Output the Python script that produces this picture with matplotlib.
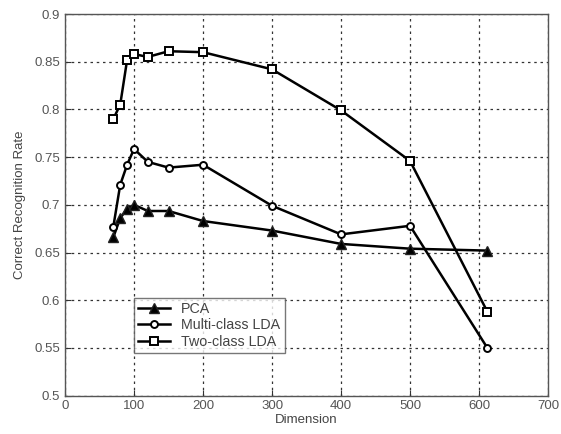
import matplotlib
matplotlib.use("Agg")
import matplotlib.pyplot as plt

plt.rcParams['font.family'] = ['Liberation Sans', 'DejaVu Sans']

dims = [70, 80, 90, 100, 120, 150, 200, 300, 400, 500, 612]
pca = [0.666, 0.686, 0.696, 0.700, 0.6935, 0.6935, 0.683, 0.673, 0.659, 0.654, 0.652]
multi_lda = [0.677, 0.721, 0.742, 0.7585, 0.745, 0.739, 0.742, 0.699, 0.669, 0.678, 0.55]
two_lda = [0.79, 0.805, 0.852, 0.858, 0.855, 0.861, 0.86, 0.842, 0.799, 0.746, 0.588]

xticks = [0, 100, 200, 300, 400, 500, 600, 700]
yticks = [0.5, 0.55, 0.6, 0.65, 0.7, 0.75, 0.8, 0.85, 0.9]
ytick_labels = ['0.5', '0.55', '0.6', '0.65', '0.7', '0.75', '0.8', '0.85', '0.9']

fig = plt.figure(figsize=(5.61, 4.34), dpi=100)
ax = fig.add_axes([0.1159, 0.0885, 0.861, 0.8792])

lw = 1.8
ax.plot(dims, pca, '-^', color='black', lw=lw, markersize=6.5, markerfacecolor='black',
        markeredgecolor='#222222', label='PCA', zorder=3)
ax.plot(dims, multi_lda, '-o', color='black', lw=lw, markersize=5, markerfacecolor='white',
        markeredgewidth=1.4, label='Multi-class LDA', zorder=3)
ax.plot(dims, two_lda, '-s', color='black', lw=lw, markersize=5.8, markerfacecolor='white',
        markeredgewidth=1.4, label='Two-class LDA', zorder=3)

ax.set_xlim(0, 700)
ax.set_ylim(0.5, 0.9)
ax.set_xticks(xticks)
ax.set_yticks(yticks)
ax.set_yticklabels(ytick_labels)
ax.grid(True, linestyle=(0, (2, 3)), color='#333333', linewidth=0.9)
ax.tick_params(direction='in', length=4, labelsize=9.5, colors='#333333', labelcolor='#555555')
for s in ax.spines.values():
    s.set_color('#555555')
    s.set_linewidth(1.0)

ax.set_xlabel('Dimension', fontsize=9.5, color='#444444', labelpad=1)
ax.set_ylabel('Correct Recognition Rate', fontsize=9.5, color='#444444', labelpad=6)

leg = ax.legend(loc='lower left', bbox_to_anchor=(0.143, 0.112), fontsize=10.3,
                frameon=True, fancybox=False, borderpad=0.3, labelspacing=0.15,
                handlelength=2.2, borderaxespad=0)
leg.get_frame().set_edgecolor('#555555')
leg.get_frame().set_linewidth(1.0)
for t in leg.get_texts():
    t.set_color('#444444')

fig.savefig('out.png', dpi=100)
